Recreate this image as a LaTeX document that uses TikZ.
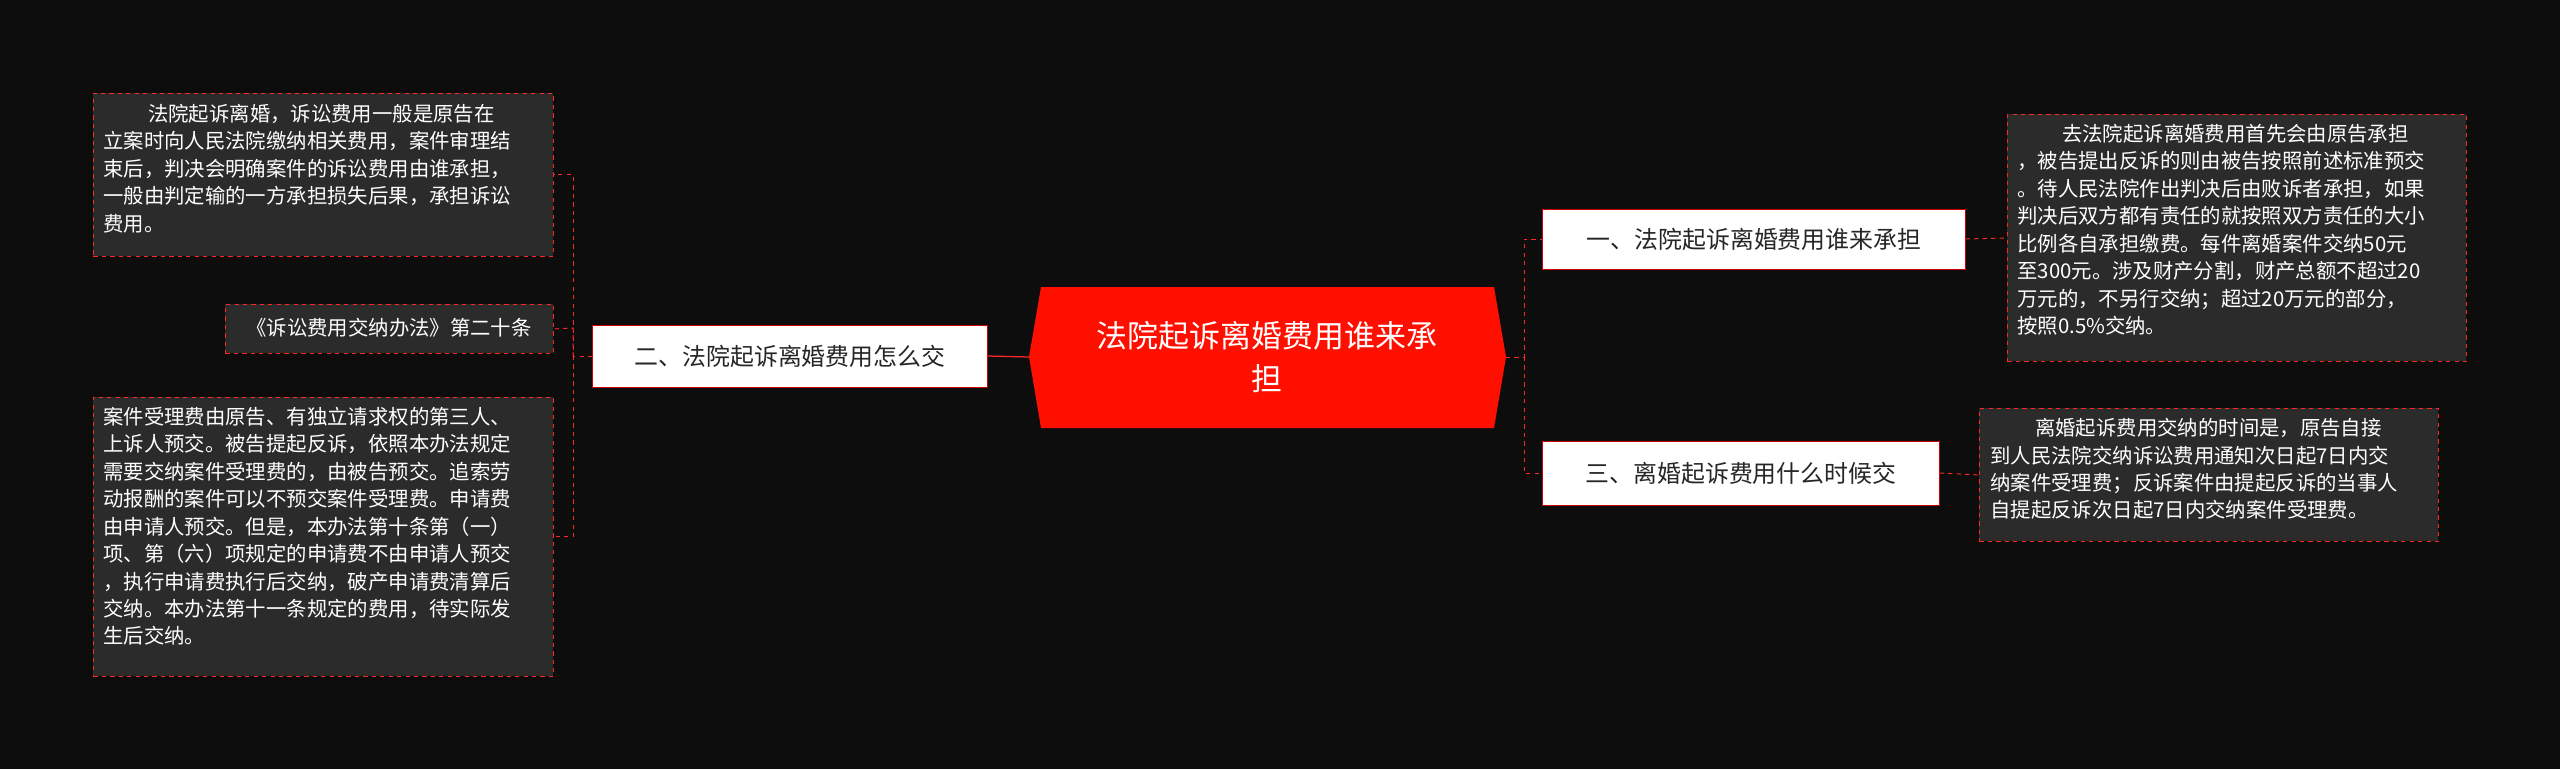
\documentclass[tikz,border=0pt]{standalone}
\usepackage{fontspec}
\setmainfont{Noto Sans CJK SC}
\begin{document}
\begin{tikzpicture}[x=0.25mm,y=-0.25mm,
 box/.style={draw=red!85!white,dashed,line width=0.6pt,fill=black!83,text=white,font=\fontsize{14.5}{19.5}\selectfont,align=left,anchor=north west,inner sep=0pt},
 sub/.style={draw=red!80!black,fill=white,text=black!85,font=\fontsize{17}{20}\selectfont,inner sep=0pt},
 dl/.style={draw=red!85!white,dashed,line width=0.7pt},
 sl/.style={draw=red!85!white,line width=0.9pt}]
\fill[black!95!white] (0,0) rectangle (2560,769);
\useasboundingbox (0,0) rectangle (2560,769);
% center
\node[fill=red!85!orange!95!black,inner sep=0pt,minimum width=1pt] (c) at (1267,357) {};
\fill[red!88!orange] (1041,287) -- (1494,287) -- (1506,357) -- (1494,428) -- (1041,428) -- (1029,357) -- cycle;
\coordinate (cl) at (1029,357); \coordinate (cr) at (1506,357);
\node[text=white,align=center,font=\fontsize{22}{30}\selectfont] at (1267,357) {法院起诉离婚费用谁来承\\担};
% sub nodes
\node[sub,minimum width=423*0.25mm,minimum height=60*0.25mm] (r1) at (1754,239) {一、法院起诉离婚费用谁来承担};
\node[sub,minimum width=397*0.25mm,minimum height=64*0.25mm] (r2) at (1741,473) {三、离婚起诉费用什么时候交};
\node[sub,minimum width=395*0.25mm,minimum height=62*0.25mm] (l1) at (790,356) {二、法院起诉离婚费用怎么交};
% boxes
\node[box,minimum width=459*0.25mm,minimum height=247*0.25mm,text width=435*0.25mm] (b1) at (2007,114) {};
\node[anchor=north west,text=white,font=\fontsize{14.5}{19.5}\selectfont,align=left,inner sep=0pt] at (2017,124) {\hspace{2.2em}去法院起诉离婚费用首先会由原告承担\\，被告提出反诉的则由被告按照前述标准预交\\。待人民法院作出判决后由败诉者承担，如果\\判决后双方都有责任的就按照双方责任的大小\\比例各自承担缴费。每件离婚案件交纳50元\\至300元。涉及财产分割，财产总额不超过20\\万元的，不另行交纳；超过20万元的部分，\\按照0.5\%交纳。};
\node[box,minimum width=459*0.25mm,minimum height=133*0.25mm] (b2) at (1979,408) {};
\node[anchor=north west,text=white,font=\fontsize{14.5}{19.5}\selectfont,align=left,inner sep=0pt] at (1990,418) {\hspace{2.2em}离婚起诉费用交纳的时间是，原告自接\\到人民法院交纳诉讼费用通知次日起7日内交\\纳案件受理费；反诉案件由提起反诉的当事人\\自提起反诉次日起7日内交纳案件受理费。};
\node[box,minimum width=460*0.25mm,minimum height=163*0.25mm] (b3) at (93,93) {};
\node[anchor=north west,text=white,font=\fontsize{14.5}{19.5}\selectfont,align=left,inner sep=0pt] at (103,104) {\hspace{2.2em}法院起诉离婚，诉讼费用一般是原告在\\立案时向人民法院缴纳相关费用，案件审理结\\束后，判决会明确案件的诉讼费用由谁承担，\\一般由判定输的一方承担损失后果，承担诉讼\\费用。};
\node[box,minimum width=328*0.25mm,minimum height=49*0.25mm,anchor=north west] (b4) at (225,304) {};
\node[text=white,font=\fontsize{14.5}{19.5}\selectfont,inner sep=0pt] at (389,328) {《诉讼费用交纳办法》第二十条};
\node[box,minimum width=460*0.25mm,minimum height=279*0.25mm] (b5) at (93,397) {};
\node[anchor=north west,text=white,font=\fontsize{14.5}{19.5}\selectfont,align=left,inner sep=0pt] at (103,407) {案件受理费由原告、有独立请求权的第三人、\\上诉人预交。被告提起反诉，依照本办法规定\\需要交纳案件受理费的，由被告预交。追索劳\\动报酬的案件可以不预交案件受理费。申请费\\由申请人预交。但是，本办法第十条第（一）\\项、第（六）项规定的申请费不由申请人预交\\，执行申请费执行后交纳，破产申请费清算后\\交纳。本办法第十一条规定的费用，待实际发\\生后交纳。};
% connectors
\draw[sl] (cl) -- (l1.east);
\draw[dl] (cr) -- (1524,357) |- (r1.west);
\draw[dl] (1524,357) |- (r2.west);
\draw[dl] (l1.west) -- (573,356) |- (b3.east);
\draw[dl] (573,356) |- (b5.east);
\draw[dl] (573,356) -- (573,328) -- (b4.east);
\draw[dl] (r1.east) -- (b1.west);
\draw[dl] (r2.east) -- (b2.west);
\end{tikzpicture}
\end{document}
